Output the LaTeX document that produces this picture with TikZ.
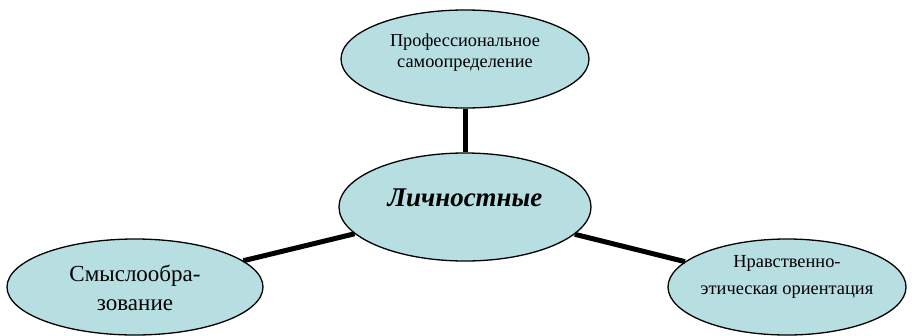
\documentclass[tikz,border=0pt]{standalone}
\usepackage{fontspec}
\setmainfont{Liberation Serif}
\usetikzlibrary{shapes.geometric}
\definecolor{ovalfill}{RGB}{183,222,225}
\begin{document}
\begin{tikzpicture}[x=1pt,y=-1pt,
  oval/.style={ellipse,draw=black,line width=1.3pt,fill=ovalfill,inner sep=0pt},
  txt/.style={inner sep=0pt,align=center},
  link/.style={line width=5pt,black}]
\useasboundingbox (0,0) rectangle (912,335);
\node[oval,minimum width=248pt,minimum height=98pt] (top) at (465,59) {};
\node[oval,minimum width=252pt,minimum height=108pt] (mid) at (465,207) {};
\node[oval,minimum width=256pt,minimum height=96pt] (left) at (135,287) {};
\node[oval,minimum width=238pt,minimum height=96pt] (right) at (787,287) {};
\node[txt,font=\fontsize{18.3}{21}\selectfont] (toptext) at (465,53)
  {Профессиональное\\самоопределение};
\node[txt,font=\fontsize{27}{30}\selectfont\bfseries\itshape] (midtext) at (465,198)
  {Личностные};
\node[txt,font=\fontsize{23}{29}\selectfont] (lefttext) at (135,288)
  {Смыслообра-\\зование};
\node[txt,font=\fontsize{18.4}{27}\selectfont] (righttext) at (787,277)
  {Нравственно-\\этическая ориентация};
\draw[link] (top) -- (mid);
\draw[link] (mid) -- (left);
\draw[link] (mid) -- (right);
\end{tikzpicture}
\end{document}
